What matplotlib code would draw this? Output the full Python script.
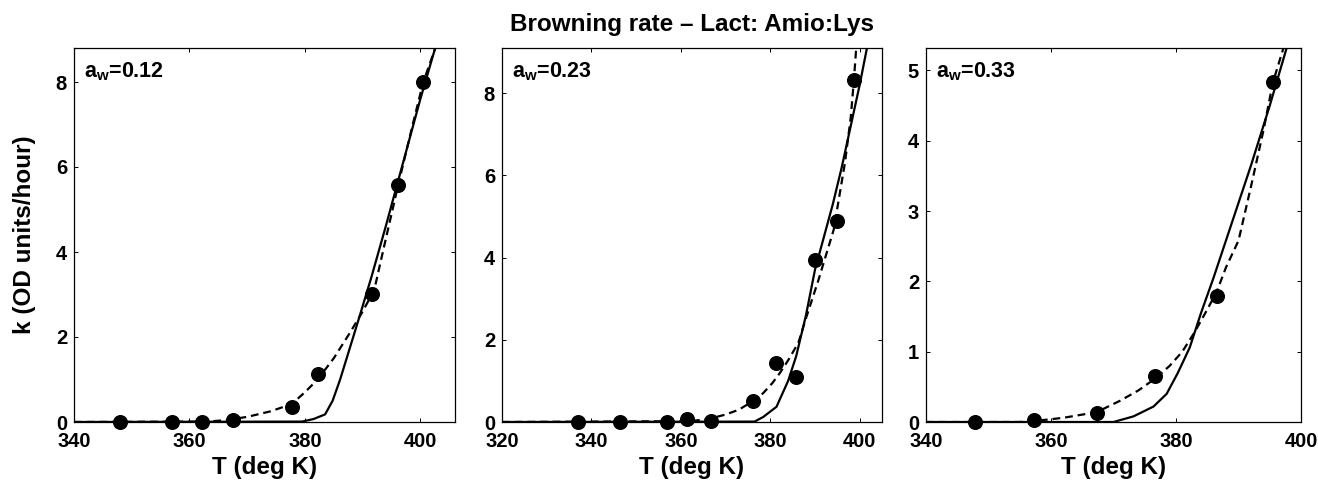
import numpy as np
import matplotlib
matplotlib.use('Agg')
import matplotlib.pyplot as plt

plt.rcParams['font.family'] = ['Liberation Sans', 'DejaVu Sans']
plt.rcParams['font.weight'] = 'bold'
plt.rcParams['mathtext.default'] = 'regular'

# 测量点 (T, k)
t_012 = [348.0, 357.0, 362.2, 367.6, 377.7, 382.2, 391.7, 396.2, 400.5]
k_012 = [0.0, 0.0, 0.0, 0.05, 0.36, 1.12, 3.02, 5.58, 8.0]
t_023 = [337.0, 346.5, 357.0, 361.3, 366.7, 376.1, 381.3, 385.8, 390.0, 395.0, 398.8]
k_023 = [0.0, 0.0, 0.0, 0.08, 0.03, 0.5, 1.44, 1.1, 3.95, 4.9, 8.32]
t_033 = [347.8, 357.3, 367.3, 376.7, 386.5, 395.5]
k_033 = [0.0, 0.03, 0.13, 0.65, 1.79, 4.83]

# 实线模型
ts_012 = [340, 379.5, 381.5, 383.5, 384.8, 386.1, 387.8, 389.5, 391.5, 394, 397, 400, 403]
ks_012 = [0, 0.01, 0.07, 0.18, 0.5, 1.0, 1.75, 2.5, 3.4, 4.6, 6.1, 7.6, 9.0]
ts_023 = [320, 376.5, 378.4, 381.4, 384.0, 385.8, 388.0, 390.0, 392.0, 394.0, 396.0, 398.0, 400.0, 402.0]
ks_023 = [0, 0.01, 0.12, 0.37, 1.0, 1.6, 2.6, 3.7, 4.5, 5.3, 6.2, 7.2, 8.2, 9.3]
ts_033 = [340, 370, 373.2, 376.4, 378.5, 380.3, 382.2, 384, 386, 389, 392, 395, 397.8, 398.5]
ks_033 = [0, 0.0, 0.08, 0.22, 0.4, 0.7, 1.06, 1.55, 2.05, 2.85, 3.65, 4.5, 5.35, 5.6]

# 虚线模型
td_012 = [340, 363, 366, 370, 374, 377.7, 380, 382.2, 385, 387.8, 390, 392, 394, 396.2, 398.5, 400.5, 402.6, 403.5]
kd_012 = [0, 0.01, 0.04, 0.12, 0.25, 0.42, 0.7, 1.0, 1.5, 2.1, 2.6, 3.1, 4.3, 5.6, 6.9, 8.0, 8.8, 9.3]
td_023 = [320, 362, 366, 370, 373, 376, 378.4, 380.5, 382.2, 384, 386.3, 388.1, 390.8, 394.2, 396.7, 398, 398.7, 399.3]
kd_023 = [0, 0.02, 0.07, 0.18, 0.3, 0.5, 0.7, 0.95, 1.2, 1.5, 1.93, 2.56, 3.46, 4.68, 6.3, 7.4, 8.3, 9.2]
td_033 = [340, 355, 358, 362, 367.3, 371, 374, 376.7, 379, 381, 383, 385, 386.5, 388, 390, 392, 394, 395.5, 397.3, 398]
kd_033 = [0, 0.0, 0.02, 0.06, 0.14, 0.3, 0.45, 0.62, 0.8, 1.0, 1.28, 1.6, 1.85, 2.2, 2.58, 3.35, 4.15, 4.83, 5.35, 5.6]

labels = ['0.12', '0.23', '0.33']
xlims = [(340, 406), (320, 405), (340, 400)]
ylims = [(0, 8.8), (0, 9.1), (0, 5.32)]
yticks = [[0, 2, 4, 6, 8], [0, 2, 4, 6, 8], [0, 1, 2, 3, 4, 5]]
xticks = [[340, 360, 380, 400], [320, 340, 360, 380, 400], [340, 360, 380, 400]]

pts = [(t_012, k_012), (t_023, k_023), (t_033, k_033)]
solid = [(ts_012, ks_012), (ts_023, ks_023), (ts_033, ks_033)]
dashed = [(td_012, kd_012), (td_023, kd_023), (td_033, kd_033)]

fig = plt.figure(figsize=(13.18, 4.88), dpi=100)
W, H = 1318, 488
boxes = [(74, 455), (502, 882), (926, 1301)]
axes = []
for (l, r) in boxes:
    axes.append(fig.add_axes([l / W, 66 / H, (r - l) / W, 374 / H]))

for i, ax in enumerate(axes):
    ax.plot(solid[i][0], solid[i][1], color='black', lw=1.6, solid_capstyle='butt')
    ax.plot(dashed[i][0], dashed[i][1], color='black', lw=1.6, dashes=(3.5, 2.2))
    ax.plot(pts[i][0], pts[i][1], 'o', color='black', ms=9.8, clip_on=False)
    ax.set_xlim(*xlims[i])
    ax.set_ylim(*ylims[i])
    ax.set_xticks(xticks[i])
    ax.set_yticks(yticks[i])
    ax.tick_params(direction='in', length=3, width=0.7, labelsize=14.5, pad=5,
                   top=True, right=True)
    ax.tick_params(axis='x', pad=7)
    for lab in ax.get_xticklabels() + ax.get_yticklabels():
        lab.set_fontweight('bold')
    for sp in ax.spines.values():
        sp.set_linewidth(0.9)
    ax.set_xlabel('T (deg K)', fontsize=17.5, fontweight='bold', labelpad=4)
    ax.annotate('a$_w$=' + labels[i], xy=(0, 1), xycoords='axes fraction',
                xytext=(7, -21), textcoords='offset points',
                fontsize=15.5, fontweight='bold', va='baseline', ha='left')

axes[0].set_ylabel('k (OD units/hour)', fontsize=17.5, fontweight='bold', labelpad=14)
axes[1].set_title('Browning rate \u2013 Lact: Amio:Lys', fontsize=17.5,
                  fontweight='bold', pad=12)

plt.savefig('out.png', dpi=100)
